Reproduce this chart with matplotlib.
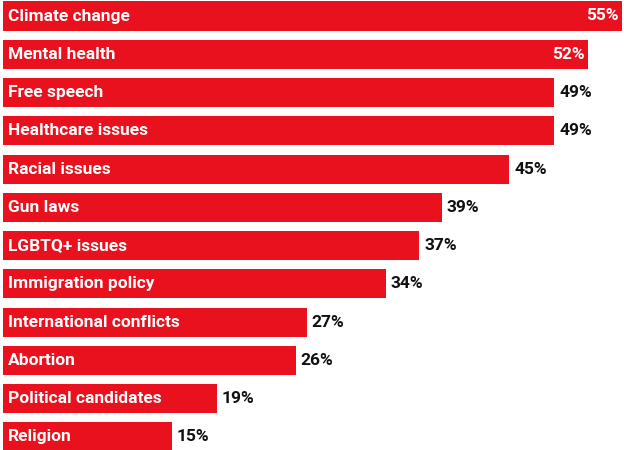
import matplotlib
matplotlib.use('Agg')
from matplotlib import pyplot as plt

topics = ['Climate change', 'Mental health', 'Free speech', 'Healthcare issues',
          'Racial issues', 'Gun laws', 'LGBTQ+ issues', 'Immigration policy',
          'International conflicts', 'Abortion', 'Political candidates',
          'Religion']
shares = [55, 52, 49, 49, 45, 39, 37, 34, 27, 26, 19, 15]

red = '#e8111d'
px = 11.25  # pixels per percentage point

fig = plt.figure(figsize=(6.24, 4.5), dpi=100)
ax = fig.add_axes([0, 0, 1, 1])

ypos = list(range(len(topics)))
ax.barh(ypos, shares, height=0.76, color=red, left=0)

for i, (name, v) in enumerate(zip(topics, shares)):
    ax.text(5 / px, i, name, color='white', fontsize=12.5, fontweight='bold',
            family='Roboto', va='center', ha='left')
    if v >= 52:
        ax.text(v - 3 / px, i, '{}%'.format(v), color='white', fontsize=12.5,
                fontweight='bold', family='Roboto', va='center', ha='right')
    else:
        ax.text(v + 5 / px, i, '{}%'.format(v), color='#111111', fontsize=12.5,
                fontweight='bold', family='Roboto', va='center', ha='left')

ax.set_xlim(-3 / px, 55 + 2 / px)
ax.set_ylim((450 - 16) / 38.27, -16 / 38.27)
ax.axis('off')

fig.savefig('out.png', dpi=100)
